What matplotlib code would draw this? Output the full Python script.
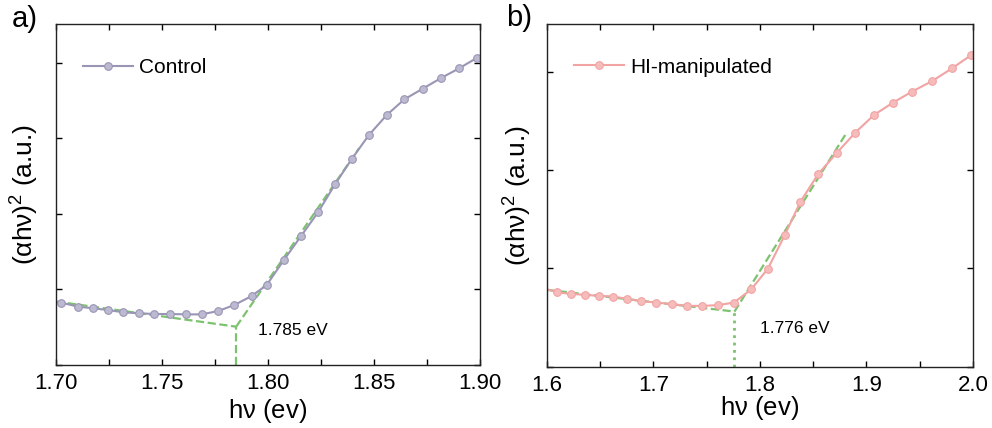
import matplotlib
matplotlib.use("Agg")
import matplotlib.pyplot as plt
from matplotlib.ticker import MultipleLocator

plt.rcParams['font.family'] = ['Liberation Sans', 'DejaVu Sans']
plt.rcParams['mathtext.fontset'] = 'custom'
plt.rcParams['mathtext.rm'] = 'Liberation Sans'
plt.rcParams['mathtext.it'] = 'Liberation Sans'

# Control sample (a)
ctrl_x = [1.7024, 1.7105, 1.7176, 1.7244, 1.7318, 1.7393, 1.7464, 1.7538, 1.7613,
          1.7687, 1.7766, 1.7841, 1.7923, 1.7994, 1.8075, 1.8156, 1.8237, 1.8316,
          1.8395, 1.8476, 1.8560, 1.8643, 1.8730, 1.8814, 1.8901, 1.8987]
ctrl_y = [0.825, 0.772, 0.750, 0.728, 0.697, 0.684, 0.675, 0.675, 0.670,
          0.670, 0.715, 0.794, 0.913, 1.059, 1.390, 1.707, 2.025, 2.391,
          2.726, 3.044, 3.308, 3.516, 3.657, 3.794, 3.926, 4.067]
ctrl_base_x = [1.70, 1.785]
ctrl_base_y = [0.84, 0.507]
ctrl_fit_x = [1.785, 1.843]
ctrl_fit_y = [0.507, 2.87]
ctrl_gap = 1.785

# HI-manipulated sample (b)
hi_x = [1.596, 1.6097, 1.6228, 1.6354, 1.6485, 1.6620, 1.6754, 1.6886, 1.7027,
        1.7177, 1.7315, 1.7455, 1.7606, 1.7756, 1.7919, 1.8075, 1.8232, 1.8379,
        1.8545, 1.8723, 1.8895, 1.9070, 1.9249, 1.9427, 1.9618, 1.9803, 1.9984]
hi_y = [0.80, 0.753, 0.739, 0.729, 0.719, 0.712, 0.688, 0.664, 0.651,
        0.634, 0.617, 0.617, 0.624, 0.651, 0.786, 0.997, 1.336, 1.675,
        1.956, 2.176, 2.380, 2.559, 2.685, 2.797, 2.905, 3.034, 3.169]
hi_base_x = [1.60, 1.776]
hi_base_y = [0.78, 0.559]
hi_fit_x = [1.776, 1.881]
hi_fit_y = [0.559, 2.373]
hi_gap = 1.776

green = '#7dc26f'
ylab = r'($\mathrm{\alpha h\nu}$)$^2$ (a.u.)'
xlab = r'h$\mathrm{\nu}$ (ev)'

fig = plt.figure(figsize=(9.92, 4.28), dpi=100)
ax1 = fig.add_axes([56 / 992, 1 - 365 / 428, 424 / 992, 341 / 428])
ax2 = fig.add_axes([547 / 992, 1 - 366.5 / 428, 426 / 992, 343 / 428])


def style(ax, xmin, xmax, major, minor, ytick, ymax):
    ax.set_xlim(xmin, xmax)
    ax.set_ylim(0, ymax)
    ax.xaxis.set_major_locator(MultipleLocator(major))
    ax.xaxis.set_minor_locator(MultipleLocator(minor))
    ax.yaxis.set_major_locator(MultipleLocator(ytick))
    ax.set_yticklabels([])
    ax.tick_params(which='both', direction='in', top=True, right=True,
                   labelsize=16, length=4, width=1, pad=6)
    for s in ax.spines.values():
        s.set_linewidth(1)
        s.set_color('#222222')


# panel a
ax1.plot(ctrl_base_x, ctrl_base_y, '--', color=green, lw=1.6, zorder=1)
ax1.plot(ctrl_fit_x, ctrl_fit_y, '--', color=green, lw=1.6, zorder=1)
ax1.plot([ctrl_gap, ctrl_gap], [0, ctrl_base_y[1]], '--', color=green, lw=1.6, zorder=1)
ax1.plot(ctrl_x, ctrl_y, '-o', color='#9995b5', lw=1.5, ms=5.5,
         mfc='#bcbad0', mec='#9995b5', mew=0.8, label='Control', zorder=2)
ax1.text(1.7955, 0.463, '1.785 eV', fontsize=12.5, va='center')
style(ax1, 1.70, 1.90, 0.05, 0.025, 1, 4.513)
ax1.xaxis.set_major_formatter(plt.FormatStrFormatter('%.2f'))
ax1.set_xlabel(xlab, fontsize=18.5, labelpad=2)
ax1.set_ylabel(ylab, fontsize=19, labelpad=5)
ax1.legend(loc='center left', bbox_to_anchor=(0.02, 0.873), frameon=False,
           fontsize=15, handlelength=2.4, handletextpad=0.3)
fig.text(12 / 992, 1 - 19 / 428, 'a)', fontsize=21, va='center')

# panel b
ax2.plot(hi_base_x, hi_base_y, '--', color=green, lw=1.6, zorder=1)
ax2.plot(hi_fit_x, hi_fit_y, '--', color=green, lw=1.6, zorder=1)
ax2.plot([hi_gap, hi_gap], [0, hi_base_y[1]], ':', color=green, lw=2, zorder=1)
ax2.plot(hi_x, hi_y, '-o', color='#f2a3a3', lw=1.5, ms=5.5,
         mfc='#f6bcbc', mec='#f2a3a3', mew=0.8, label='HI-manipulated', zorder=2)
ax2.text(1.7997, 0.39, '1.776 eV', fontsize=12.5, va='center')
style(ax2, 1.6, 2.0, 0.1, 0.05, 1, 3.49)
ax2.xaxis.set_major_formatter(plt.FormatStrFormatter('%.1f'))
ax2.set_xlabel(xlab, fontsize=18.5, labelpad=-1.5)
ax2.set_ylabel(ylab, fontsize=19, labelpad=3)
ax2.legend(loc='center left', bbox_to_anchor=(0.02, 0.873), frameon=False,
           fontsize=15, handlelength=2.4, handletextpad=0.3)
fig.text(506 / 992, 1 - 18 / 428, 'b)', fontsize=21, va='center')

fig.savefig('out.png', dpi=100)
